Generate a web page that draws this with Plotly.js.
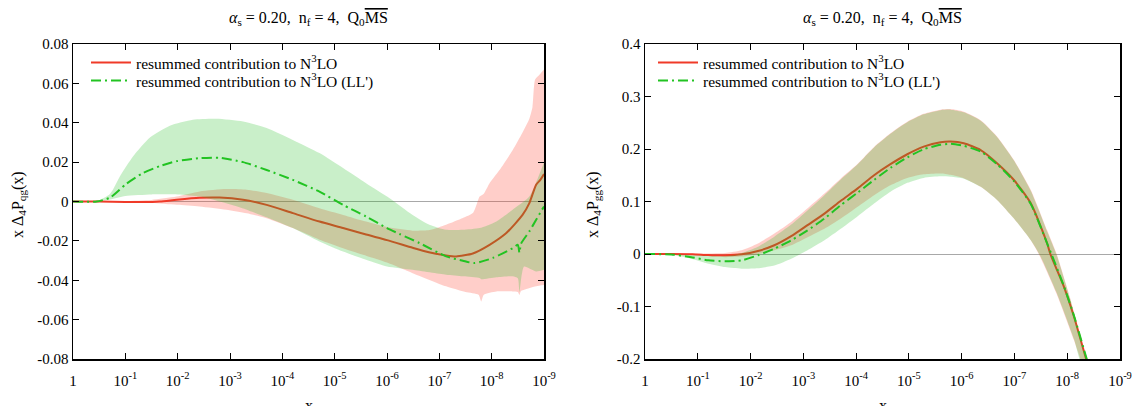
<!DOCTYPE html>
<html>
<head>
<meta charset="utf-8">
<script src="https://cdn.plot.ly/plotly-3.0.1.min.js"></script>
<style>html,body{margin:0;padding:0;background:#fff;}#chart{width:1133px;height:406px;}</style>
</head>
<body>
<div id="chart"></div>
<script>
// ---------- data (log10 x and values) ----------
// Left panel: x ΔP_qg
const qgN3LO_logx = [0, -0.5, -1, -1.34, -1.66, -1.98, -2.42, -2.8, -3.25, -3.7, -4.2, -4.71, -5.16, -5.6, -6.0, -6.49, -6.8, -7.13, -7.32, -7.64, -7.96, -8.28, -8.59, -8.72, -8.85, -8.93, -9.0];
const qgN3LO      = [0, 0, -0.0002, -0.0003, 0, 0.0009, 0.0019, 0.002, 0.0009, -0.0017, -0.0059, -0.0102, -0.0135, -0.0168, -0.0196, -0.0235, -0.0258, -0.0274, -0.0279, -0.0264, -0.022, -0.016, -0.0068, -0.0008, 0.0085, 0.011, 0.014];

const qgN3LOUp_logx = [0, -0.5, -1, -1.5, -1.98, -2.42, -2.93, -3.32, -3.7, -4.2, -4.71, -5.16, -5.6, -6.0, -6.49, -6.81, -7.13, -7.45, -7.64, -7.72, -7.77, -7.85, -7.96, -8.15, -8.4, -8.59, -8.72, -8.78, -8.83, -8.9, -9.0];
const qgN3LOUp      = [0, 0.0001, 0.0002, 0.0008, 0.0025, 0.0051, 0.0063, 0.006, 0.0043, 0.0009, -0.0034, -0.0068, -0.0102, -0.013, -0.0148, -0.0145, -0.0118, -0.0084, -0.0059, -0.001, 0.0025, 0.004, 0.0093, 0.016, 0.026, 0.035, 0.042, 0.048, 0.062, 0.064, 0.067];

const qgN3LODn_logx = [0, -0.5, -1, -1.5, -1.98, -2.42, -2.93, -3.32, -3.7, -4.2, -4.71, -5.16, -5.6, -6.0, -6.49, -7.13, -7.5, -7.75, -7.8, -7.85, -8.09, -8.4, -8.5, -8.53, -8.56, -8.85, -9.0];
const qgN3LODn      = [0, -0.0001, -0.0003, -0.0008, -0.0017, -0.0025, -0.0042, -0.006, -0.0085, -0.0135, -0.0194, -0.0237, -0.0275, -0.031, -0.0364, -0.0431, -0.046, -0.0474, -0.0508, -0.0474, -0.0457, -0.0457, -0.046, -0.0475, -0.0455, -0.043, -0.0424];

const qgLL_logx = [0, -0.45, -0.71, -1.02, -1.34, -1.66, -1.98, -2.42, -2.8, -3.25, -3.7, -4.2, -4.71, -5.16, -5.6, -6.0, -6.24, -6.62, -7.13, -7.45, -7.67, -8.02, -8.4, -8.5, -8.53, -8.56, -8.72, -8.85, -9.0];
const qgLL      = [0, 0, 0.002, 0.009, 0.0145, 0.018, 0.0205, 0.022, 0.0222, 0.020, 0.016, 0.011, 0.005, -0.0017, -0.0076, -0.0135, -0.0165, -0.0211, -0.0279, -0.0301, -0.0313, -0.0287, -0.0237, -0.022, -0.026, -0.0215, -0.0152, -0.0093, -0.0025];

const qgLLUp_logx = [0, -0.45, -0.71, -0.9, -1.15, -1.47, -1.85, -2.29, -2.74, -3.25, -3.7, -4.2, -4.71, -5.16, -5.6, -6.05, -6.49, -6.81, -7.13, -7.45, -7.77, -8.09, -8.4, -8.72, -8.97, -9.0];
const qgLLUp      = [0, 0.0002, 0.004, 0.013, 0.023, 0.0325, 0.0385, 0.0415, 0.042, 0.0406, 0.0373, 0.0313, 0.0246, 0.017, 0.0093, 0.0017, -0.0068, -0.0118, -0.0144, -0.0144, -0.0135, -0.0101, -0.0042, 0.0025, 0.0178, 0.02];

const qgLLDn_logx = [0, -0.45, -0.71, -1.0, -1.5, -2.0, -2.42, -2.8, -3.25, -3.7, -4.2, -4.71, -5.16, -5.6, -6.0, -6.49, -7.13, -7.45, -7.77, -7.8, -8.09, -8.4, -8.5, -8.53, -8.57, -8.62, -8.85, -9.0];
const qgLLDn      = [0, 0, 0.001, 0.0028, 0.0036, 0.0036, 0.0025, 0.0, -0.0035, -0.008, -0.0135, -0.0203, -0.0254, -0.0296, -0.033, -0.0347, -0.0372, -0.038, -0.0389, -0.0395, -0.0385, -0.038, -0.039, -0.046, -0.038, -0.033, -0.0355, -0.0347];

// Right panel: x ΔP_gg
const ggN3LO_logx = [0, -0.5, -0.9, -1.2, -1.52, -1.83, -2.14, -2.45, -2.77, -3.08, -3.4, -3.71, -4.03, -4.34, -4.65, -4.97, -5.28, -5.6, -5.79, -6.04, -6.36, -6.67, -6.99, -7.31, -7.62, -7.68, -7.94, -8.13, -8.35, -8.5];
const ggN3LO      = [0, 0, -0.0005, -0.002, -0.0025, -0.0006, 0.0057, 0.0166, 0.034, 0.055, 0.077, 0.1013, 0.125, 0.150, 0.171, 0.190, 0.2045, 0.213, 0.2143, 0.211, 0.198, 0.173, 0.141, 0.0965, 0.02, 0.0, -0.063, -0.120, -0.197, -0.245];

const ggN3LOUp_logx = [0, -0.5, -1.0, -1.52, -1.83, -2.14, -2.45, -2.77, -3.08, -3.4, -3.71, -4.03, -4.34, -4.65, -4.97, -5.28, -5.6, -5.79, -6.04, -6.36, -6.67, -6.99, -7.31, -7.62, -7.8, -8.05, -8.3, -8.5];
const ggN3LOUp      = [0, 0.0005, 0.001, 0.002, 0.007, 0.02, 0.039, 0.061, 0.087, 0.115, 0.144, 0.172, 0.204, 0.23, 0.252, 0.267, 0.275, 0.276, 0.271, 0.255, 0.224, 0.179, 0.122, 0.045, 0, -0.082, -0.178, -0.26];

const ggN3LODn_logx = [0, -0.5, -1.0, -1.52, -1.83, -2.14, -2.45, -2.77, -3.08, -3.4, -3.71, -4.03, -4.34, -4.65, -4.97, -5.28, -5.6, -5.79, -6.04, -6.36, -6.67, -6.99, -7.31, -7.49, -7.8, -8.13, -8.25, -8.5];
const ggN3LODn      = [0, -0.0005, -0.003, -0.006, -0.005, 0.0, 0.007, 0.0166, 0.032, 0.048, 0.0675, 0.09, 0.112, 0.131, 0.145, 0.152, 0.1535, 0.151, 0.1445, 0.128, 0.103, 0.0675, 0.026, -0.006, -0.076, -0.165, -0.2, -0.27];

const ggLL_logx = [0, -0.5, -0.88, -1.2, -1.52, -1.83, -2.14, -2.45, -2.77, -3.08, -3.4, -3.71, -4.03, -4.34, -4.65, -4.97, -5.28, -5.6, -5.79, -6.04, -6.36, -6.67, -6.99, -7.31, -7.62, -7.7, -7.94, -8.13, -8.37, -8.5];
const ggLL      = [0, -0.001, -0.006, -0.012, -0.014, -0.012, -0.0025, 0.01, 0.026, 0.045, 0.0675, 0.093, 0.117, 0.141, 0.164, 0.184, 0.1995, 0.208, 0.21, 0.206, 0.195, 0.171, 0.139, 0.095, 0.02, 0, -0.062, -0.118, -0.2, -0.24];

const ggLLUp_logx = [0, -0.5, -1.0, -1.52, -1.83, -2.14, -2.45, -2.77, -3.08, -3.4, -3.71, -4.03, -4.34, -4.65, -4.97, -5.28, -5.6, -5.79, -6.04, -6.36, -6.67, -6.99, -7.31, -7.62, -7.8, -8.05, -8.3, -8.5];
const ggLLUp      = [0, -0.0005, -0.003, -0.004, 0.002, 0.014, 0.033, 0.056, 0.083, 0.112, 0.142, 0.171, 0.203, 0.229, 0.251, 0.266, 0.274, 0.275, 0.27, 0.254, 0.223, 0.178, 0.12, 0.043, -0.002, -0.084, -0.18, -0.25];

const ggLLDn_logx = [0, -0.45, -0.88, -1.2, -1.52, -1.83, -2.14, -2.45, -2.77, -3.08, -3.4, -3.71, -4.03, -4.34, -4.65, -4.97, -5.28, -5.6, -5.79, -6.04, -6.36, -6.67, -6.99, -7.31, -7.49, -7.8, -8.13, -8.25, -8.5];
const ggLLDn      = [0, 0, -0.009, -0.0185, -0.025, -0.028, -0.027, -0.022, -0.009, 0.007, 0.026, 0.048, 0.072, 0.096, 0.1185, 0.1355, 0.145, 0.148, 0.147, 0.1435, 0.128, 0.103, 0.0675, 0.026, -0.004, -0.074, -0.163, -0.205, -0.25];

// tick labels
const xTickVals = [1, 1e-1, 1e-2, 1e-3, 1e-4, 1e-5, 1e-6, 1e-7, 1e-8, 1e-9];
const xTickText = ['1', '10<sup>-1</sup>', '10<sup>-2</sup>', '10<sup>-3</sup>', '10<sup>-4</sup>', '10<sup>-5</sup>', '10<sup>-6</sup>', '10<sup>-7</sup>', '10<sup>-8</sup>', '10<sup>-9</sup>'];
const yLeftTickVals = [-0.08, -0.06, -0.04, -0.02, 0, 0.02, 0.04, 0.06, 0.08];
const yLeftTickText = ['-0.08', '-0.06', '-0.04', '-0.02', '0', '0.02', '0.04', '0.06', '0.08'];
const yRightTickVals = [-0.2, -0.1, 0, 0.1, 0.2, 0.3, 0.4];
const yRightTickText = ['-0.2', '-0.1', '0', '0.1', '0.2', '0.3', '0.4'];

const nameN3LO = 'resummed contribution to N<sup>3</sup>LO';
const nameLL = "resummed contribution to N<sup>3</sup>LO (LL')";
const panelTitle = '<i>α</i><sub>s</sub> = 0.20,&nbsp; n<sub>f</sub> = 4,&nbsp; Q<sub>0</sub><span style="text-decoration:overline">MS</span>';

// ---------- styling ----------
const RED_LINE = '#f03a28';
const GREEN_LINE = '#22c322';
const RED_FILL = 'rgba(255,60,40,0.25)';
const GREEN_FILL = 'rgba(30,190,30,0.24)';
const FONT = 'Liberation Serif';
const SM = 0.6;

const X = a => a.map(t => Math.pow(10, t));

function panel(xa, ya, lgRed, lgGreen, d) {
  const edge = {width: 0, shape: 'spline', smoothing: SM};
  return [
    {x: X(d.redDnX), y: d.redDn, xaxis: xa, yaxis: ya, mode: 'lines', line: Object.assign({color: RED_FILL}, edge), showlegend: false, hoverinfo: 'skip'},
    {x: X(d.redUpX), y: d.redUp, xaxis: xa, yaxis: ya, mode: 'lines', line: Object.assign({color: RED_FILL}, edge), fill: 'tonexty', fillcolor: RED_FILL, showlegend: false, hoverinfo: 'skip'},
    {x: X(d.redX), y: d.red, xaxis: xa, yaxis: ya, mode: 'lines', name: nameN3LO, legend: lgRed, line: {width: 2, color: RED_LINE, shape: 'spline', smoothing: SM}},
    {x: X(d.grDnX), y: d.grDn, xaxis: xa, yaxis: ya, mode: 'lines', line: Object.assign({color: GREEN_FILL}, edge), showlegend: false, hoverinfo: 'skip'},
    {x: X(d.grUpX), y: d.grUp, xaxis: xa, yaxis: ya, mode: 'lines', line: Object.assign({color: GREEN_FILL}, edge), fill: 'tonexty', fillcolor: GREEN_FILL, showlegend: false, hoverinfo: 'skip'},
    {x: X(d.grX), y: d.gr, xaxis: xa, yaxis: ya, mode: 'lines', name: nameLL, legend: lgGreen, line: {width: 2, color: GREEN_LINE, dash: '10px,4px,2px,4px', shape: 'spline', smoothing: SM}}
  ];
}

const traces = [].concat(
  panel('x', 'y', 'legend', 'legend2', {
    redDnX: qgN3LODn_logx, redDn: qgN3LODn, redUpX: qgN3LOUp_logx, redUp: qgN3LOUp, redX: qgN3LO_logx, red: qgN3LO,
    grDnX: qgLLDn_logx, grDn: qgLLDn, grUpX: qgLLUp_logx, grUp: qgLLUp, grX: qgLL_logx, gr: qgLL
  }),
  panel('x2', 'y2', 'legend3', 'legend4', {
    redDnX: ggN3LODn_logx, redDn: ggN3LODn, redUpX: ggN3LOUp_logx, redUp: ggN3LOUp, redX: ggN3LO_logx, red: ggN3LO,
    grDnX: ggLLDn_logx, grDn: ggLLDn, grUpX: ggLLUp_logx, grUp: ggLLUp, grX: ggLL_logx, gr: ggLL
  })
);

const W = 1133, H = 406, MT = 44, MB = 47;
const PH = H - MT - MB;
const px = v => v / W;
const py = v => (H - MB - v) / PH;

const xAxisBase = {
  type: 'log', range: [0, -9], tickvals: xTickVals, ticktext: xTickText,
  ticks: 'inside', ticklen: 6, tickwidth: 1, tickcolor: '#000', ticklabelstandoff: 7,
  showline: true, linecolor: '#000', linewidth: 1.5, mirror: 'ticks',
  showgrid: false, zeroline: false, fixedrange: true,
  tickfont: {family: FONT, size: 15, color: '#000'}
};
const yAxisBase = {
  ticks: 'inside', ticklen: 6, tickwidth: 1, tickcolor: '#000',
  showline: true, linecolor: '#000', linewidth: 1.5, mirror: 'ticks',
  showgrid: false, zeroline: true, zerolinecolor: '#a8a8a8', zerolinewidth: 1, fixedrange: true,
  tickfont: {family: FONT, size: 15, color: '#000'}
};

const L0 = 73, L1 = 544, R0 = 645, R1 = 1120;

const legendBase = {
  xanchor: 'left', yanchor: 'top', bgcolor: 'rgba(0,0,0,0)', borderwidth: 0, traceorder: 'normal',
  font: {family: FONT, size: 15.5, color: '#000'}, itemwidth: 40, tracegroupgap: 0
};

const layout = {
  width: W, height: H,
  margin: {l: 0, r: 0, t: MT, b: MB, pad: 0},
  paper_bgcolor: '#fff', plot_bgcolor: '#fff',
  font: {family: FONT, size: 15, color: '#000'},
  hovermode: false,
  xaxis: Object.assign({}, xAxisBase, {domain: [px(L0), px(L1)], anchor: 'y'}),
  yaxis: Object.assign({}, yAxisBase, {domain: [0, 1], range: [-0.08, 0.08], tickvals: yLeftTickVals, ticktext: yLeftTickText, anchor: 'x'}),
  xaxis2: Object.assign({}, xAxisBase, {domain: [px(R0), px(R1)], anchor: 'y2'}),
  yaxis2: Object.assign({}, yAxisBase, {domain: [0, 1], range: [-0.2, 0.4], tickvals: yRightTickVals, ticktext: yRightTickText, anchor: 'x2'}),
  legend: Object.assign({}, legendBase, {x: px(86), y: py(46)}),
  legend2: Object.assign({}, legendBase, {x: px(86), y: py(64)}),
  legend3: Object.assign({}, legendBase, {x: px(653), y: py(46)}),
  legend4: Object.assign({}, legendBase, {x: px(653), y: py(64)}),
  annotations: [
    {text: panelTitle, xref: 'paper', yref: 'paper', x: px((L0 + L1) / 2), y: py(18), xanchor: 'center', yanchor: 'middle', showarrow: false, font: {family: FONT, size: 16}},
    {text: panelTitle, xref: 'paper', yref: 'paper', x: px((R0 + R1) / 2), y: py(18), xanchor: 'center', yanchor: 'middle', showarrow: false, font: {family: FONT, size: 16}},
    {text: 'x Δ<sub>4</sub>P<sub>qg</sub>(x)', xref: 'paper', yref: 'paper', x: px(18), y: py(205), xanchor: 'center', yanchor: 'middle', textangle: -90, showarrow: false, font: {family: FONT, size: 16}},
    {text: 'x Δ<sub>4</sub>P<sub>gg</sub>(x)', xref: 'paper', yref: 'paper', x: px(593), y: py(205), xanchor: 'center', yanchor: 'middle', textangle: -90, showarrow: false, font: {family: FONT, size: 16}},
    {text: 'x', xref: 'paper', yref: 'paper', x: px((L0 + L1) / 2), y: py(405), xanchor: 'center', yanchor: 'middle', showarrow: false, font: {family: FONT, size: 16}},
    {text: 'x', xref: 'paper', yref: 'paper', x: px((R0 + R1) / 2), y: py(405), xanchor: 'center', yanchor: 'middle', showarrow: false, font: {family: FONT, size: 16}}
  ]
};

Plotly.newPlot('chart', traces, layout, {staticPlot: true, displayModeBar: false});
</script>
</body>
</html>
